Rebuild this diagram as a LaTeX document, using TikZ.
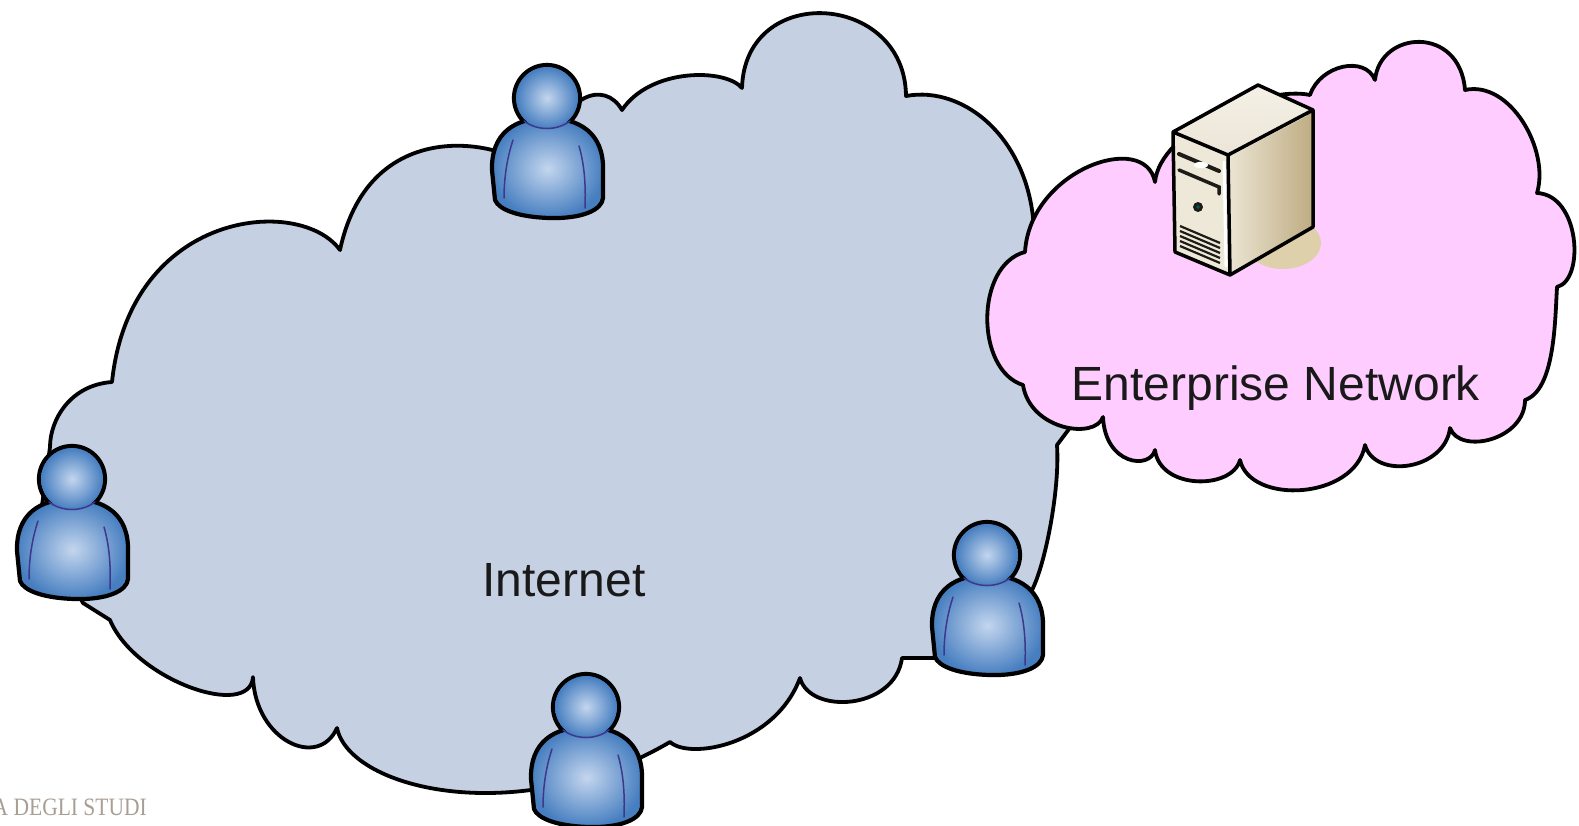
\documentclass[tikz,border=0pt]{standalone}
\usepackage{fontspec}
\setmainfont{Liberation Sans}
\newfontfamily\crestfont{Liberation Serif}
\definecolor{netfill}{RGB}{197,208,226}
\definecolor{entfill}{RGB}{255,204,255}
\definecolor{userblue}{RGB}{70,126,192}
\definecolor{userlight}{RGB}{196,214,238}
\definecolor{userline}{RGB}{62,56,140}
\definecolor{srvtop}{RGB}{244,240,230}
\definecolor{srvfront}{RGB}{238,232,216}
\definecolor{srvsideA}{RGB}{236,229,212}
\definecolor{srvsideB}{RGB}{190,172,130}
\definecolor{srvshadow}{RGB}{221,208,170}
\definecolor{srvdark}{RGB}{30,28,24}
\definecolor{crestgray}{RGB}{168,158,148}
\tikzset{
  cloudline/.style={draw=black, line width=3.8pt, line join=round},
  label text/.style={font=\fontsize{48}{56}\selectfont, text=black!90, inner sep=0pt},
  userpen/.style={draw=black, line width=4.2pt, line join=round},
  crease/.style={draw=userline, line width=1.5pt, line cap=round},
  user/.pic={
    % head ring, later refilled so only its upper outline stays black
    \path[userpen, fill=userblue] (0,0) circle[radius=33];
    % body
    \path[userpen, shade, inner color=userlight, outer color=userblue]
      (-52,102) -- (-55,72)
      .. controls (-56,35) and (-32,20) .. (0,20)
      .. controls (32,20) and (57,35) .. (56,72)
      -- (56,100)
      .. controls (55,112) and (35,121) .. (2,120)
      .. controls (-28,119) and (-48,112) .. (-52,102) -- cycle;
    % head face
    \path[shade, inner color=userlight, outer color=userblue] (0,0) circle[radius=30.9];
    % chin and arm creases
    \path[crease] (-23,23) .. controls (-10,33) and (10,33) .. (23,23);
    \path[crease] (-34,42) .. controls (-40,60) and (-43,80) .. (-43,100);
    \path[crease] (32,48) .. controls (37,65) and (39,85) .. (38,110);
  }
}
\begin{document}
\begin{tikzpicture}[x=1pt,y=-1pt]
\useasboundingbox (0,0) rectangle (1579,825);
\clip (0,0) rectangle (1579,825);

% Internet cloud
\path[cloudline, fill=netfill]
  (83,603) -- (110,620)
  .. controls (135,680) and (250,720) .. (253,677)
  .. controls (255,740) and (318,770) .. (337,728)
  .. controls (350,790) and (520,830) .. (670,742)
  .. controls (690,760) and (775,745) .. (800,678)
  .. controls (810,715) and (895,710) .. (902,658)
  -- (942,658) -- (1032,590)
  .. controls (1045,565) and (1060,490) .. (1057,445)
  -- (1072,425) -- (1082,380) -- (1062,300) -- (1034,230)
  .. controls (1030,140) and (965,85) .. (906,96)
  .. controls (905,-8) and (745,-18) .. (742,88)
  .. controls (725,68) and (650,68) .. (622,110)
  .. controls (605,80) and (560,90) .. (540,175)
  .. controls (510,140) and (370,110) .. (340,250)
  .. controls (300,195) and (130,210) .. (112,382)
  .. controls (70,385) and (50,420) .. (50,447)
  -- (40,520) -- cycle;

% Enterprise cloud
\path[cloudline, fill=entfill]
  (1025,252)
  .. controls (1030,170) and (1145,130) .. (1155,182)
  .. controls (1160,130) and (1265,85) .. (1310,95)
  .. controls (1320,65) and (1365,55) .. (1375,80)
  .. controls (1380,30) and (1460,25) .. (1465,90)
  .. controls (1510,80) and (1550,150) .. (1537,193)
  .. controls (1580,195) and (1585,280) .. (1557,287)
  .. controls (1555,320) and (1555,390) .. (1525,400)
  .. controls (1525,440) and (1460,455) .. (1450,428)
  .. controls (1445,470) and (1375,480) .. (1365,445)
  .. controls (1355,500) and (1250,505) .. (1240,460)
  .. controls (1232,490) and (1160,490) .. (1155,450)
  .. controls (1150,470) and (1105,465) .. (1103,417)
  .. controls (1095,440) and (1030,430) .. (1023,385)
  .. controls (975,370) and (975,265) .. (1025,252) -- cycle;

% Server tower
\coordinate (s1) at (1173,132);
\coordinate (s2) at (1258,85);
\coordinate (s3) at (1313,110);
\coordinate (s4) at (1228,155);
\coordinate (s5) at (1230,275);
\coordinate (s6) at (1175,252);
\coordinate (s7) at (1313,227);
\fill[srvshadow] (1283,243) ellipse[x radius=38, y radius=26];
\shade[top color=srvtop, bottom color=srvtop!85!srvsideB] (s1) -- (s2) -- (s3) -- (s4) -- cycle;
\shade[left color=srvsideA, right color=srvsideB] (s4) -- (s3) -- (s7) -- (s5) -- cycle;
\fill[srvfront] (s1) -- (s4) -- (s5) -- (s6) -- cycle;
\draw[white, line width=3pt, line cap=round] (1224,162) -- (1226,266);
\draw[white, line width=2pt, line cap=round] (1234,153) -- (1306,115);
% drive bays, button and vents
\draw[srvdark, line width=4pt, line cap=round] (1179,154) -- (1219,171);
\fill[white] (1201,165) ellipse[x radius=7, y radius=3.2];
\draw[srvdark, line width=3.5pt, line cap=round] (1179,170) -- (1219,187) -- (1219,194);
\fill[srvdark] (1198,207) circle[radius=5];
\fill[teal!70!black] (1198,207) circle[radius=1.8];
\foreach \k in {0,...,4}
  \draw[srvdark, line width=2.2pt] (1180,226+5*\k) -- (1220,243+5*\k);
% tower outline
\draw[black, line width=3.5pt, line join=round]
  (s1) -- (s2) -- (s3) -- (s7) -- (s5) -- (s6) -- cycle
  (s1) -- (s4) -- (s3) (s4) -- (s5);

% Users
\pic (utop) at (547,98) {user};
\pic (uleft) at (72,479) {user};
\pic (uright) at (987,555) {user};
\pic (ubottom) at (586,707) {user};

% Labels
\node[label text, anchor=base] (internet) at (564,596) {Internet};
\node[label text, anchor=base] (enterprise) at (1276,400) {Enterprise Network};
\node[anchor=base east, inner sep=0pt, text=crestgray,
      font=\crestfont\fontsize{25}{30}\selectfont] (crest) at (147,815)
  {\scalebox{0.86}[1]{A DEGLI STUDI}};
\end{tikzpicture}
\end{document}
